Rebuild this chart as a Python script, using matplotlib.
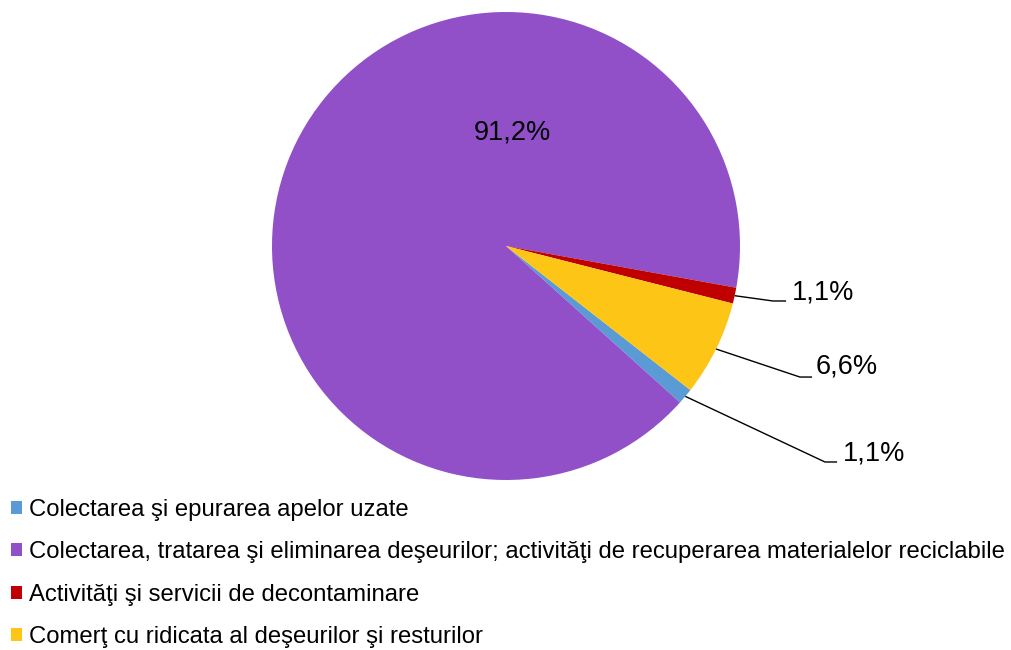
import matplotlib
matplotlib.use("Agg")
import matplotlib.pyplot as plt
import numpy as np
from matplotlib.patches import Patch

plt.rcParams["font.family"] = ["Liberation Sans", "DejaVu Sans"]

categories = [
    "Colectarea şi epurarea apelor uzate",
    "Colectarea, tratarea şi eliminarea deşeurilor; activităţi de recuperarea materialelor reciclabile",
    "Activităţi şi servicii de decontaminare",
    "Comerţ cu ridicata al deşeurilor şi resturilor",
]
shares = [1.1, 91.2, 1.1, 6.6]
label_texts = ["1,1%", "91,2%", "1,1%", "6,6%"]
colors = ["#5B9BD5", "#9150C8", "#C00000", "#FDC515"]

START = -38.0
R_PX = 234.0
CX, CY = 506.0, 246.0
W, H = 1011, 650

fig = plt.figure(figsize=(W / 100, H / 100), dpi=100)
ax = fig.add_axes([0, 0, 1, 1])

wedges, _ = ax.pie(shares, colors=colors, startangle=START, counterclock=False,
                   radius=1.0, center=(0, 0), frame=True,
                   wedgeprops=dict(linewidth=0))
ax.set_xlim(-CX / R_PX, (W - CX) / R_PX)
ax.set_ylim(-(H - CY) / R_PX, CY / R_PX)
ax.set_aspect("equal")
ax.axis("off")

# big slice label sits inside
ax.text(0.026, 0.487, label_texts[1], ha="center", va="center", fontsize=19.5)

# leader-line labels for the small slices: (elbow, end, text anchor)
callouts = {
    2: ((1.141, -0.235), (1.197, -0.235), (1.222, -0.197)),
    3: ((1.256, -0.560), (1.308, -0.560), (1.325, -0.517)),
    0: ((1.363, -0.923), (1.415, -0.923), (1.440, -0.885)),
}
for i, (elbow, end, txt) in callouts.items():
    w = wedges[i]
    mid = np.deg2rad((w.theta1 + w.theta2) / 2)
    x0, y0 = np.cos(mid), np.sin(mid)
    ax.plot([x0, elbow[0], end[0]], [y0, elbow[1], end[1]],
            color="black", linewidth=1.0, solid_capstyle="butt")
    ax.text(txt[0], txt[1], label_texts[i], ha="left", va="center", fontsize=19.5)

handles = [Patch(facecolor=c, edgecolor="none") for c in colors]
fig.legend(handles, categories, loc="upper left",
           bbox_to_anchor=(11 / W, (H - 499) / H), frameon=False,
           fontsize=17.2, handlelength=0.47, handleheight=0.47,
           handletextpad=0.27, labelspacing=0.85, borderpad=0, borderaxespad=0)

fig.savefig("out.png", dpi=100)
